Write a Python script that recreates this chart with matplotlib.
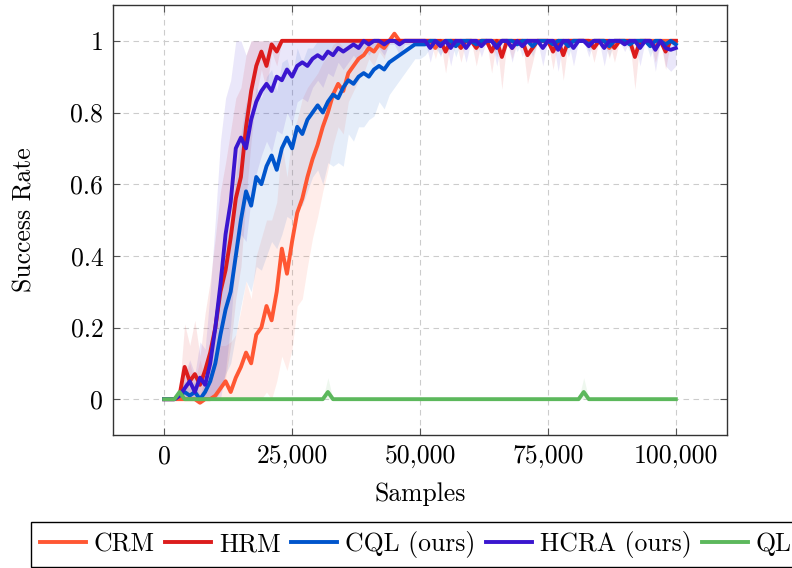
import matplotlib
matplotlib.use("Agg")
import matplotlib.pyplot as plt
import numpy as np

plt.rcParams['font.family'] = ['cmr10', 'DejaVu Serif']
plt.rcParams['axes.formatter.use_mathtext'] = True
plt.rcParams['axes.unicode_minus'] = False

# samples, one point every 1000
samples = [k * 1000 for k in range(101)]

crm = [0, 0, 0, 0, 0, 0, 0, -0.01, 0, 0,
       0.01, 0.03, 0.05, 0.02, 0.06, 0.09, 0.13, 0.1, 0.18, 0.2,
       0.26, 0.22, 0.3, 0.42, 0.35, 0.44, 0.52, 0.56, 0.62, 0.67,
       0.71, 0.76, 0.8, 0.85, 0.88, 0.86, 0.91, 0.93, 0.95, 0.96,
       0.98, 0.97, 0.99, 0.98, 1.0, 1.02, 1, 1, 1, 1,
       1, 1, 1, 0.98, 1, 1, 1, 1, 1, 1,
       1, 1, 1, 1, 1, 1, 1, 1, 0.98, 1,
       1, 1, 1, 1, 1, 1, 1, 1, 1, 1,
       1, 1, 1, 1, 1, 1, 1, 0.98, 1, 1,
       1, 1, 1, 1, 1, 1, 1, 1, 1, 1,
       1]
crm_std = [0, 0, 0, 0.01, 0.06, 0.1, 0.05, 0.12, 0.06, 0.1,
           0.08, 0.12, 0.1, 0.14, 0.12, 0.16, 0.2, 0.18, 0.22, 0.25,
           0.24, 0.28, 0.25, 0.3, 0.27, 0.3, 0.26, 0.28, 0.25, 0.22,
           0.2, 0.18, 0.16, 0.14, 0.12, 0.12, 0.08, 0.07, 0.06, 0.05,
           0.03, 0.04, 0.02, 0.03, 0, 0.02, 0, 0, 0, 0,
           0, 0, 0, 0.03, 0, 0, 0, 0, 0, 0,
           0, 0, 0, 0, 0, 0, 0, 0, 0.03, 0,
           0, 0, 0, 0, 0, 0, 0, 0, 0, 0,
           0, 0, 0, 0, 0, 0, 0, 0.03, 0, 0,
           0, 0, 0, 0, 0, 0, 0, 0, 0, 0,
           0]

hrm = [0, 0, 0, 0.01, 0.09, 0.05, 0.07, 0.04, 0.08, 0.13,
       0.2, 0.3, 0.36, 0.45, 0.56, 0.62, 0.76, 0.86, 0.93, 0.97,
       0.93, 0.99, 0.97, 1, 1, 1, 1, 1, 1, 1,
       1, 1, 1, 1, 1, 1, 1, 1, 1, 1,
       1, 1, 1, 1, 1, 1, 1, 1, 1, 1,
       1, 1, 1, 1, 1, 0.97, 1, 1, 0.98, 1,
       1, 0.98, 1, 1, 0.97, 1, 0.955, 1, 1, 1,
       1, 0.96, 0.98, 1, 1, 1, 0.97, 1, 0.96, 1,
       1, 1, 1, 1, 0.98, 1, 1, 1, 0.98, 1,
       1, 1, 0.955, 1, 1, 1, 0.98, 1, 0.97, 1,
       1]
hrm_std = [0, 0, 0, 0.02, 0.12, 0.1, 0.15, 0.08, 0.16, 0.2,
           0.25, 0.28, 0.3, 0.3, 0.28, 0.25, 0.2, 0.14, 0.08, 0.05,
           0.07, 0.02, 0.04, 0, 0, 0, 0, 0, 0, 0,
           0, 0, 0, 0, 0, 0, 0, 0, 0, 0,
           0, 0, 0, 0, 0, 0, 0, 0, 0, 0,
           0, 0, 0, 0, 0, 0.06, 0, 0, 0.04, 0,
           0, 0.05, 0, 0, 0.06, 0, 0.09, 0, 0, 0,
           0, 0.08, 0.04, 0, 0, 0, 0.05, 0, 0.07, 0,
           0, 0, 0, 0, 0.04, 0, 0, 0, 0.04, 0,
           0, 0, 0.09, 0, 0, 0, 0.04, 0, 0.05, 0,
           0]

cql = [0, 0, 0, 0.01, 0.02, 0.01, 0.02, 0, 0.02, 0.05,
       0.1, 0.18, 0.25, 0.3, 0.4, 0.5, 0.58, 0.54, 0.62, 0.6,
       0.65, 0.68, 0.64, 0.7, 0.73, 0.7, 0.76, 0.74, 0.78, 0.8,
       0.82, 0.8, 0.83, 0.85, 0.84, 0.87, 0.89, 0.88, 0.9, 0.91,
       0.9, 0.92, 0.93, 0.92, 0.94, 0.95, 0.96, 0.97, 0.98, 0.99,
       0.99, 0.99, 1, 1, 0.99, 1, 1, 0.985, 1, 1,
       1, 0.99, 1, 1, 1, 0.985, 1, 1, 1, 0.99,
       1, 1, 0.985, 1, 1, 1, 0.99, 1, 1, 0.985,
       1, 1, 1, 0.99, 1, 1, 1, 0.985, 1, 1,
       1, 0.99, 1, 1, 1, 0.985, 1, 1, 0.99, 1,
       0.99]
cql_std = [0, 0, 0, 0.01, 0.03, 0.02, 0.03, 0.01, 0.04, 0.08,
           0.12, 0.15, 0.18, 0.2, 0.22, 0.24, 0.25, 0.24, 0.25, 0.24,
           0.25, 0.24, 0.22, 0.24, 0.22, 0.2, 0.22, 0.2, 0.2, 0.18,
           0.18, 0.2, 0.17, 0.2, 0.18, 0.22, 0.15, 0.16, 0.14, 0.15,
           0.12, 0.13, 0.1, 0.11, 0.09, 0.08, 0.07, 0.06, 0.05, 0.04,
           0.04, 0.03, 0.02, 0.02, 0.03, 0.01, 0, 0.03, 0, 0,
           0, 0.02, 0, 0, 0, 0.03, 0, 0, 0, 0.02,
           0, 0, 0.03, 0, 0, 0, 0.02, 0, 0, 0.03,
           0, 0, 0, 0.02, 0, 0, 0, 0.03, 0, 0,
           0, 0.02, 0, 0, 0, 0.03, 0, 0, 0.02, 0,
           0.02]

hcra = [0, 0, 0, 0.01, 0.03, 0.05, 0.02, 0.06, 0.04, 0.1,
        0.2, 0.32, 0.46, 0.55, 0.7, 0.73, 0.7, 0.78, 0.83, 0.86,
        0.88, 0.86, 0.9, 0.89, 0.92, 0.9, 0.93, 0.94, 0.93, 0.95,
        0.96, 0.95, 0.97, 0.96, 0.98, 0.97, 0.98, 0.99, 0.98, 1.0,
        0.99, 1, 1, 0.99, 1, 1, 0.99, 1, 1, 1,
        1, 1, 0.98, 1, 0.985, 1, 0.98, 1, 1, 0.98,
        1, 1, 0.985, 1, 1, 0.98, 1, 1, 0.98, 1,
        0.985, 1, 1, 1, 0.98, 1, 1, 0.975, 1, 1,
        0.98, 1, 1, 0.985, 1, 1, 0.98, 1, 1, 1,
        0.99, 1, 1, 0.98, 1, 1, 0.975, 1, 0.98, 0.975,
        0.98]
hcra_std = [0, 0, 0, 0.01, 0.04, 0.06, 0.05, 0.1, 0.1, 0.2,
            0.3, 0.4, 0.38, 0.34, 0.3, 0.27, 0.26, 0.22, 0.2, 0.18,
            0.16, 0.17, 0.15, 0.15, 0.12, 0.13, 0.1, 0.1, 0.1, 0.08,
            0.07, 0.08, 0.06, 0.06, 0.04, 0.05, 0.04, 0.03, 0.04, 0.02,
            0.03, 0.02, 0.02, 0.03, 0.01, 0.01, 0.03, 0.01, 0.01, 0.01,
            0, 0, 0.04, 0, 0.03, 0, 0.05, 0, 0, 0.04,
            0, 0, 0.03, 0, 0, 0.05, 0, 0, 0.04, 0,
            0.03, 0, 0, 0, 0.05, 0, 0, 0.06, 0, 0,
            0.05, 0, 0, 0.03, 0, 0, 0.05, 0, 0, 0,
            0.02, 0, 0, 0.05, 0, 0, 0.06, 0, 0.05, 0.06,
            0.05]

ql = [0] * 101
ql[3] = 0.02
ql[32] = 0.02
ql[82] = 0.02
ql_std = [0] * 101
ql_std[3] = 0.01
ql_std[32] = 0.04
ql_std[82] = 0.04

names = ['CRM', 'HRM', 'CQL (ours)', 'HCRA (ours)', 'QL']
colors = ['#ff5733', '#dc1c1c', '#0055cc', '#3a16cf', '#5cb85c']
series = [crm, hrm, cql, hcra, ql]
stds = [crm_std, hrm_std, cql_std, hcra_std, ql_std]

xticks = [0, 25000, 50000, 75000, 100000]
xticklabels = ['0', '25,000', '50,000', '75,000', '100,000']
yticks = [0, 0.2, 0.4, 0.6, 0.8, 1]
yticklabels = ['0', '0.2', '0.4', '0.6', '0.8', '1']

fs = 18.5
fig = plt.figure(figsize=(7.92, 5.68), dpi=100)
ax = fig.add_axes([113 / 792, 1 - 435 / 568, 614 / 792, 430 / 568])

x = np.array(samples)
for y, s, c in zip(series, stds, colors):
    y = np.array(y)
    s = np.array(s)
    lo = np.clip(y - s, 0, 1)
    hi = np.clip(y + s, 0, 1)
    ax.fill_between(x, lo, hi, color=c, alpha=0.1, linewidth=0, zorder=1)

for y, c, n in zip(series, colors, names):
    ax.plot(x, y, color=c, lw=2.8, label=n, zorder=2)

ax.set_xlim(-10000, 110000)
ax.set_ylim(-0.1, 1.1)
ax.set_xticks(xticks)
ax.set_xticklabels(xticklabels)
ax.set_yticks(yticks)
ax.set_yticklabels(yticklabels)
ax.tick_params(direction='in', top=True, right=True, length=5, width=0.8,
               color='#555555', labelsize=fs, pad=7)
ax.grid(True, color='#cccccc', linestyle=(0, (5, 4)), linewidth=0.8, zorder=0)
ax.set_axisbelow(True)
for sp in ax.spines.values():
    sp.set_color('#333333')
    sp.set_linewidth(1.0)

ax.set_xlabel('Samples', fontsize=fs)
ax.set_ylabel('Success Rate', fontsize=fs)
ax.xaxis.set_label_coords(0.5, -0.11)
ax.yaxis.set_label_coords(-0.125, 0.5)

leg = fig.legend(loc='lower left', bbox_to_anchor=(31 / 792, 1 / 568), ncol=5,
                 fontsize=fs, handlelength=1.8, handletextpad=0.3,
                 columnspacing=0.4, borderpad=0.35, borderaxespad=0,
                 fancybox=False, framealpha=1, edgecolor='black')
leg.get_frame().set_linewidth(1.0)

fig.savefig('out.png', dpi=100)
